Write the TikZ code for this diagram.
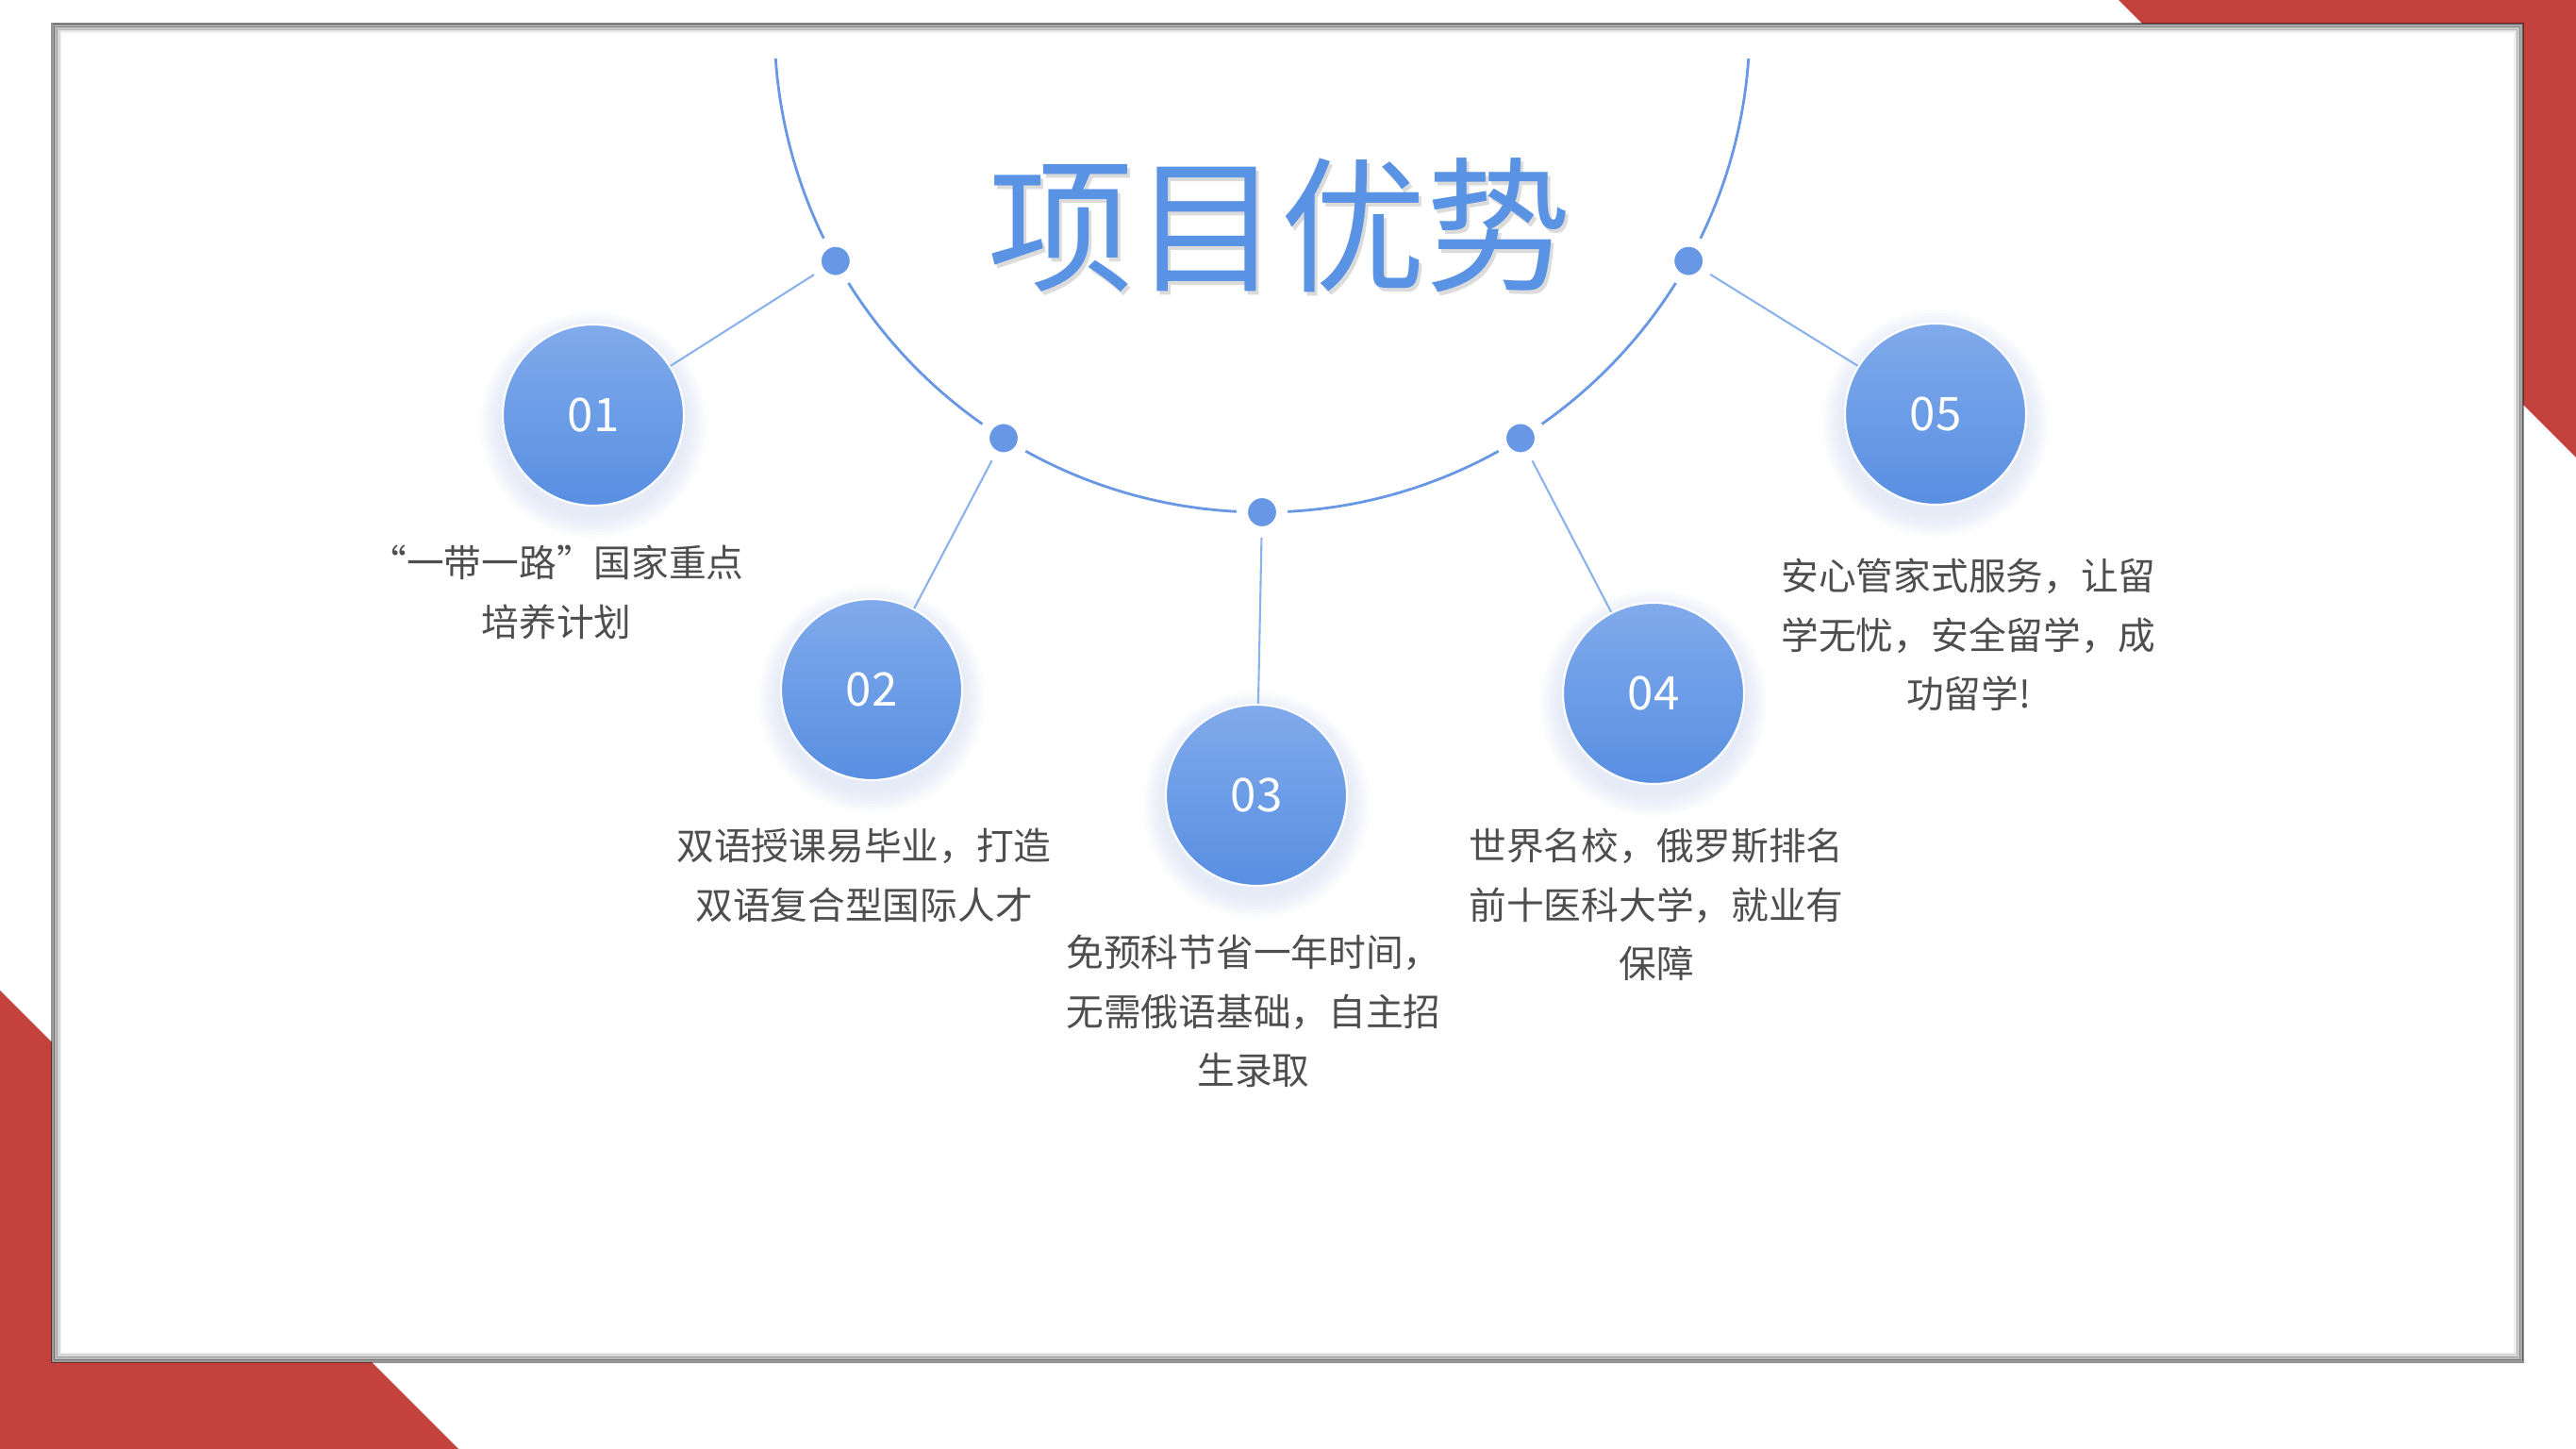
\documentclass[tikz,border=0pt]{standalone}
\usepackage{fontspec}
\setmainfont{Noto Sans CJK SC}
\usepackage{tikz}
\usetikzlibrary{positioning}
\usetikzlibrary{backgrounds}
\definecolor{slidered}{RGB}{196,66,61}
\definecolor{titleblue}{RGB}{90,146,228}
\definecolor{balltop}{RGB}{128,170,235}
\definecolor{ballbot}{RGB}{88,143,226}
\definecolor{arcblue}{RGB}{104,152,229}
\definecolor{linkblue}{RGB}{140,178,236}
\definecolor{glowblue}{RGB}{120,160,235}
\definecolor{bodygray}{RGB}{78,78,78}
\tikzset{ball/.style={circle,top color=balltop,bottom color=ballbot,draw=white,line width=0.6pt,minimum size=1.92cm,inner sep=0pt,text=white,font=\fontsize{14}{16}\selectfont},
  joint/.style={circle,fill=arcblue,draw=white,line width=0.12cm,minimum size=0.42cm,inner sep=0pt},
  note/.style={align=center,text=bodygray,inner sep=0pt,font=\fontsize{11.3}{17.8}\selectfont},}

\begin{document}
\begin{tikzpicture}
    \useasboundingbox (0,0) rectangle (27.31,15.36);
    \coordinate (hub) at (13.38,15.10);

    \node[text=black!35,opacity=.4,font=\fontsize{44}{50}\selectfont] (shade) at (13.60,12.93) {项目优势};
    \node[text=titleblue,font=\fontsize{44}{50}\selectfont] (title) at (13.57,12.97) {项目优势};

    \foreach \a [count=\i] in {-151,-122,-90,-58,-29}
        \node[joint] (d\i) at ([shift={(\a:5.17)}]hub) {};

    \node[ball] (c1) at (6.29,10.96) {01};
    \node[ball] (c2) at (9.24,8.05) {02};
    \node[ball] (c3) at (13.32,6.93) {03};
    \node[ball] (c4) at (17.53,8.01) {04};
    \node[ball] (c5) at (20.52,10.97) {05};

    \node[note] (t1) at (5.90,9.08) {“一带一路”国家重点\\培养计划};
    \node[note] (t2) at (9.16,6.08) {双语授课易毕业，打造\\双语复合型国际人才};
    \node[note] (t3) at (13.29,4.64) {免预科节省一年时间，\\无需俄语基础，自主招\\生录取};
    \node[note] (t4) at (17.56,5.77) {世界名校，俄罗斯排名\\前十医科大学，就业有\\保障};
    \node[note] (t5) at (20.87,8.63) {安心管家式服务，让留\\学无忧，安全留学，成\\功留学!};

    \foreach \i in {1,...,5}
        \draw[linkblue,line width=0.6pt] (d\i) -- (c\i);

    \begin{scope}[on background layer]
        \fill[white] (0,0) rectangle (27.31,15.36);
        \fill[slidered] (22.46,15.36) -- (27.31,15.36) -- (27.31,10.51) -- cycle;
        \fill[slidered] (0,4.86) -- (0,0) -- (4.86,0) -- cycle;
        \fill[white] (0.55,0.92) rectangle (26.75,15.11);
        % soft edge of the panel
        \foreach \k [evaluate=\k as \op using 0.42-0.06*\k] in {0,...,6}
            \draw[black,opacity=\op,line width=0.02cm] (0.55+\k*0.015,0.92+\k*0.015) rectangle (26.75-\k*0.015,15.11-\k*0.015);
        \draw[arcblue,line width=0.8pt] ([shift={(-4:5.17)}]hub) arc[start angle=-4,end angle=-176,radius=5.17];
        % glow under the balls
        \foreach \i in {1,...,5}
            \foreach \k in {1,...,8}
                \fill[glowblue,opacity=0.025] ([yshift=-0.1cm]c\i) circle (0.96cm+\k*0.03cm);
    \end{scope}
\end{tikzpicture}
\end{document}
